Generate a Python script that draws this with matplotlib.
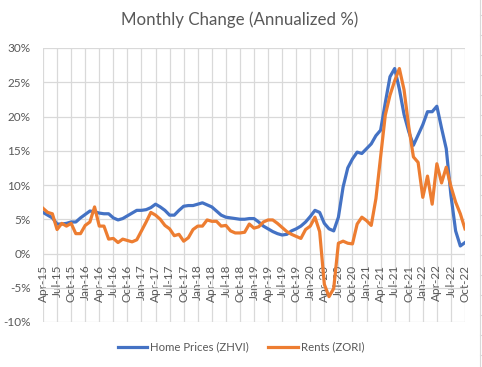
import matplotlib
matplotlib.use("Agg")
import matplotlib.pyplot as plt
from matplotlib.lines import Line2D
import numpy as np
import pandas as pd

# monthly change, annualized %, Apr-2015 .. Oct-2022
months = pd.date_range("2015-04-01", periods=91, freq="MS")
month_labels = [d.strftime("%b-%y") for d in months]

zhvi = [6.0, 5.6, 5.2, 4.3, 4.3, 4.4, 4.6, 4.6, 5.2, 5.7, 6.2, 6.1,
        5.9, 5.8, 5.8, 5.2, 4.9, 5.1, 5.5, 5.9, 6.3, 6.3, 6.4, 6.7,
        7.2, 6.8, 6.3, 5.6, 5.6, 6.3, 6.9, 7.0, 7.0, 7.2, 7.4, 7.1,
        6.8, 6.2, 5.6, 5.3, 5.2, 5.1, 5.0, 5.0, 5.1, 5.1, 4.6, 4.0,
        3.6, 3.2, 2.9, 2.7, 2.8, 3.3, 3.6, 4.0, 4.6, 5.4, 6.3, 6.0,
        4.4, 3.6, 3.3, 5.3, 9.7, 12.5, 13.8, 14.8, 14.6, 15.3, 16.0, 17.2,
        18.0, 22.0, 25.8, 27.0, 24.0, 20.3, 17.8, 15.8, 17.3, 18.8, 20.7, 20.7,
        21.5, 18.3, 15.3, 8.5, 3.3, 1.1, 1.6]

zori = [6.6, 6.0, 5.8, 3.5, 4.4, 4.0, 4.4, 2.9, 2.9, 4.1, 4.6, 6.8,
        4.0, 4.0, 2.1, 2.2, 1.6, 2.1, 1.9, 1.7, 2.0, 3.3, 4.6, 6.0,
        5.6, 5.0, 4.1, 3.6, 2.6, 2.8, 1.8, 2.3, 3.5, 4.0, 4.0, 4.9,
        4.7, 4.7, 4.0, 4.1, 3.3, 3.0, 3.0, 3.1, 4.3, 3.7, 3.9, 4.6,
        4.9, 4.9, 4.4, 3.8, 3.2, 2.8, 2.5, 2.2, 3.5, 4.0, 5.3, 3.2,
        -4.5, -6.3, -5.1, 1.5, 1.8, 1.5, 1.4, 4.3, 5.3, 4.8, 4.1, 8.0,
        14.1, 20.2, 23.1, 25.2, 27.0, 23.9, 18.5, 14.1, 13.3, 8.2, 11.3, 7.2,
        13.1, 10.3, 12.6, 9.8, 7.5, 5.8, 3.6]

blue = "#4472C4"
orange = "#ED7D31"
grid_c = "#D9D9D9"
text_c = "#595959"

plt.rcParams["font.family"] = ["Lato", "DejaVu Sans"]

fig = plt.figure(figsize=(4.82, 3.67), dpi=100)
W, H = 482, 367
ax = fig.add_axes([43 / W, (H - 322) / H, (465 - 43) / W, (322 - 48) / H])

for s in ax.spines.values():
    s.set_color("none")
# category axis crosses at 0% like in Excel
ax.spines["bottom"].set_position(("data", 0))

x = np.arange(len(months))
ax.plot(x, zhvi, color=blue, lw=2.3, solid_joinstyle="round", zorder=3)
ax.plot(x, zori, color=orange, lw=2.3, solid_joinstyle="round", zorder=3)

ax.set_xlim(0, len(months) - 1)
ax.set_ylim(-10, 30)
ax.set_yticks(range(-10, 31, 5))
ax.set_yticklabels([f"{v}%" for v in range(-10, 31, 5)])
ticks = list(range(0, len(months), 3))
ax.set_xticks(ticks)
ax.set_xticklabels([month_labels[i] for i in ticks], rotation=90)

ax.grid(True, color=grid_c, lw=0.9)
ax.set_axisbelow(True)
ax.tick_params(length=0, colors=text_c, labelsize=8.5)
ax.tick_params(axis="y", pad=9)
ax.tick_params(axis="x", pad=8)

fig.text(240 / W, 1 - 20 / H, "Monthly Change (Annualized %)", ha="center", va="center",
         fontsize=12.2, color=text_c)

handles = [Line2D([], [], color=blue, lw=2.3), Line2D([], [], color=orange, lw=2.3)]
fig.legend(handles, ["Home Prices (ZHVI)", "Rents (ZORI)"], loc="center",
           bbox_to_anchor=(241 / W, 1 - 347 / H), ncol=2, frameon=False,
           fontsize=8.2, labelcolor=text_c, handlelength=2.6, handletextpad=0.25,
           columnspacing=1.7)

# edge of the neighbouring sheet column on the right
fig.add_artist(Line2D([480 / W, 480 / W], [0, 1], color=grid_c, lw=0.8))
for yy in range(15, H, 20):
    fig.add_artist(Line2D([480 / W, 1], [1 - yy / H, 1 - yy / H], color=grid_c, lw=0.8))

fig.savefig("out.png", dpi=100)
